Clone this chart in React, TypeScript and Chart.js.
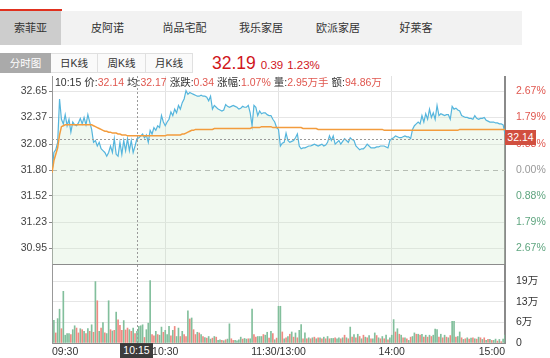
import React, { useEffect, useRef } from "react";
import { Chart, registerables } from "chart.js";

Chart.register(...registerables);

const FONT = '"Liberation Sans", "Noto Sans CJK SC", Arial, sans-serif';

// ---------- data ----------
const TABS = ["索菲亚", "皮阿诺", "尚品宅配", "我乐家居", "欧派家居", "好莱客"];
const PERIODS = ["分时图", "日K线", "周K线", "月K线"];
const LAST_PRICE = "32.19";
const LAST_CHANGE = "0.39";
const LAST_PCT = "1.23%";

const PREV_CLOSE = 31.8;
const PRICE_MIN = 30.781;
const PRICE_MAX = 32.819;
const PRICE_TICKS = [32.65, 32.37, 32.08, 31.8, 31.52, 31.23, 30.95];
const PRICE_LABELS = ["32.65", "32.37", "32.08", "31.80", "31.52", "31.23", "30.95"];
const PCT_LABELS = ["2.67%", "1.79%", "0.88%", "0.00%", "0.88%", "1.79%", "2.67%"];
const PCT_SIGN = [1, 1, 1, 0, -1, -1, -1];

const VOL_MAX = 24;
const VOL_TICKS = [0, 6.35, 12.7, 19.05];
const VOL_LABELS = ["0", "6万", "13万", "19万"];

const TIME_TICKS = [0, 60, 120, 180, 240];
const TIME_LABELS = ["09:30", "10:30", "11:30/13:00", "14:00", "15:00"];

const CROSS_INDEX = 45;
const CROSS_TIME = "10:15";
const CROSS_PRICE = 32.14;
const INFO = [
  { label: "10:15", value: "" },
  { label: "价:", value: "32.14" },
  { label: "均:", value: "32.17" },
  { label: "涨跌:", value: "0.34" },
  { label: "涨幅:", value: "1.07%" },
  { label: "量:", value: "2.95万手" },
  { label: "额:", value: "94.86万" },
];

// minute price, index 0 = 09:30 ... 120 = 11:30/13:00 ... 240 = 15:00
const PRICE = [
  31.77, 31.99, 32.02, 32.10, 32.57, 32.35, 32.30, 32.40, 32.28, 32.35,
  32.21, 32.32, 32.29, 32.28, 32.31, 32.36, 32.30, 32.37, 32.29, 32.40,
  32.32, 32.24, 32.10, 32.12, 32.06, 32.10, 32.03, 32.01, 31.99, 31.95,
  31.99, 32.06, 31.99, 32.14, 31.97, 31.95, 32.10, 31.97, 32.12, 32.01,
  32.14, 32.01, 32.12, 31.99, 32.06, 32.14, 32.15, 32.17, 32.19, 32.15,
  32.18, 32.10, 32.23, 32.19, 32.26, 32.23, 32.28, 32.26, 32.39, 32.32,
  32.28, 32.32, 32.35, 32.43, 32.39, 32.46, 32.42, 32.50, 32.46, 32.53,
  32.57, 32.66, 32.62, 32.64, 32.63, 32.62, 32.61, 32.60, 32.60, 32.61,
  32.60, 32.60, 32.59, 32.55, 32.60, 32.46, 32.50, 32.48, 32.46, 32.45,
  32.44, 32.45, 32.51, 32.49, 32.48, 32.49, 32.50, 32.49, 32.48, 32.46,
  32.47, 32.49, 32.48, 32.48, 32.50, 32.42, 32.28, 32.50, 32.48, 32.39,
  32.44, 32.41, 32.42, 32.42, 32.40, 32.39, 32.39, 32.35, 32.32, 32.26,
  32.24, 32.06, 32.09, 32.10, 32.20, 32.12, 32.10, 32.11, 32.12, 32.15,
  32.19, 32.06, 32.03, 32.04, 32.04, 32.05, 32.06, 32.06, 32.07, 32.08,
  32.07, 32.06, 32.07, 32.08, 32.06, 32.07, 32.10, 32.17, 32.12, 32.17,
  32.08, 32.10, 32.12, 32.08, 32.11, 32.14, 32.12, 32.10, 32.15, 32.13,
  32.12, 32.06, 32.04, 32.02, 32.03, 32.03, 32.05, 32.08, 32.06, 32.04,
  32.04, 32.04, 32.05, 32.05, 32.06, 32.06, 32.06, 32.05, 32.04, 32.12,
  32.14, 32.15, 32.17, 32.16, 32.15, 32.15, 32.16, 32.17, 32.16, 32.16,
  32.14, 32.24, 32.28, 32.30, 32.32, 32.30, 32.39, 32.32, 32.41, 32.35,
  32.46, 32.37, 32.42, 32.35, 32.50, 32.39, 32.41, 32.40, 32.39, 32.40,
  32.40, 32.35, 32.49, 32.46, 32.47, 32.45, 32.44, 32.39, 32.38, 32.37,
  32.37, 32.36, 32.36, 32.35, 32.39, 32.36, 32.35, 32.36, 32.36, 32.37,
  32.34, 32.33, 32.32, 32.32, 32.32, 32.31, 32.31, 32.30, 32.30, 32.29,
  32.19,
];

const AVG = [
  31.77, 31.90, 31.97, 32.04, 32.18, 32.27, 32.28, 32.29, 32.29, 32.29,
  32.29, 32.29, 32.29, 32.29, 32.29, 32.29, 32.29, 32.29, 32.29, 32.29,
  32.29, 32.29, 32.28, 32.27, 32.26, 32.25, 32.24, 32.23, 32.22, 32.22,
  32.21, 32.21, 32.20, 32.20, 32.20, 32.19, 32.19, 32.18, 32.18, 32.18,
  32.17, 32.17, 32.17, 32.17, 32.17, 32.17, 32.17, 32.17, 32.17, 32.17,
  32.17, 32.17, 32.17, 32.17, 32.17, 32.17, 32.17, 32.17, 32.17, 32.17,
  32.17, 32.18, 32.18, 32.18, 32.18, 32.18, 32.18, 32.18, 32.18, 32.19,
  32.19, 32.20, 32.21, 32.22, 32.23, 32.23, 32.24, 32.24, 32.24, 32.24,
  32.24, 32.24, 32.24, 32.24, 32.24, 32.24, 32.25, 32.25, 32.25, 32.25,
  32.25, 32.25, 32.25, 32.25, 32.25, 32.25, 32.25, 32.25, 32.25, 32.25,
  32.25, 32.25, 32.25, 32.25, 32.25, 32.25, 32.26, 32.26, 32.26, 32.26,
  32.26, 32.27, 32.27, 32.27, 32.27, 32.27, 32.27, 32.26, 32.26, 32.26,
  32.26, 32.26, 32.26, 32.26, 32.26, 32.26, 32.26, 32.26, 32.26, 32.26,
  32.26, 32.26, 32.26, 32.25, 32.25, 32.25, 32.25, 32.25, 32.25, 32.25,
  32.25, 32.24, 32.24, 32.24, 32.24, 32.24, 32.24, 32.24, 32.24, 32.24,
  32.24, 32.24, 32.24, 32.24, 32.24, 32.24, 32.24, 32.24, 32.24, 32.24,
  32.24, 32.24, 32.24, 32.24, 32.24, 32.24, 32.24, 32.24, 32.24, 32.24,
  32.24, 32.24, 32.24, 32.24, 32.24, 32.24, 32.23, 32.23, 32.23, 32.23,
  32.23, 32.23, 32.23, 32.23, 32.23, 32.23, 32.23, 32.23, 32.23, 32.23,
  32.23, 32.23, 32.23, 32.23, 32.23, 32.23, 32.23, 32.23, 32.23, 32.23,
  32.23, 32.23, 32.23, 32.23, 32.23, 32.23, 32.23, 32.23, 32.23, 32.23,
  32.23, 32.23, 32.23, 32.23, 32.23, 32.23, 32.24, 32.24, 32.24, 32.24,
  32.24, 32.24, 32.24, 32.24, 32.24, 32.24, 32.24, 32.24, 32.24, 32.24,
  32.24, 32.24, 32.24, 32.24, 32.24, 32.24, 32.24, 32.24, 32.24, 32.24,
  32.24,
];

// volume per minute in 万, minute 1..240
const VOLUME = [
  7.0, 3.1, 7.5, 10.4, 4.4, 15.9, 2.4, 2.9, 2.9, 2.6,
  4.1, 5.3, 4.6, 3.1, 4.4, 4.1, 3.6, 2.9, 4.4, 3.6,
  5.6, 3.3, 18.9, 13.0, 3.6, 4.6, 6.3, 3.1, 2.9, 13.0,
  4.1, 3.7, 3.9, 9.5, 7.1, 5.4, 3.9, 6.9, 4.0, 4.6,
  4.1, 3.6, 4.6, 2.9, 3.6, 5.1, 5.3, 5.6, 1.7, 4.1,
  6.1, 19.2, 2.6, 2.2, 3.6, 2.6, 2.4, 4.9, 3.3, 3.9,
  2.6, 5.1, 2.2, 3.9, 5.1, 2.0, 4.6, 2.0, 3.6, 2.6,
  2.0, 9.9, 7.4, 7.7, 4.1, 2.6, 3.3, 3.1, 2.6, 2.0,
  1.7, 1.5, 2.0, 1.2, 1.5, 2.0, 1.8, 0.8, 1.0, 0.8,
  0.7, 1.0, 1.2, 5.9, 1.3, 0.8, 0.8, 0.7, 1.0, 1.8,
  1.2, 1.4, 1.2, 1.3, 1.3, 10.4, 2.6, 1.8, 2.0, 2.0,
  2.0, 2.6, 2.4, 3.3, 1.5, 3.6, 2.9, 1.0, 1.5, 11.3,
  11.3, 3.4, 1.3, 1.6, 2.0, 2.7, 3.4, 1.8, 3.1, 1.6,
  3.9, 5.7, 1.3, 3.1, 1.3, 1.6, 1.3, 1.6, 1.8, 1.3,
  1.6, 1.6, 1.3, 1.8, 1.3, 2.0, 1.3, 1.4, 1.4, 1.6,
  1.3, 1.6, 1.3, 1.6, 2.4, 1.6, 1.3, 4.9, 1.8, 2.6,
  1.6, 2.7, 2.0, 1.3, 2.4, 1.8, 1.6, 2.3, 1.3, 1.3,
  3.1, 2.3, 1.6, 1.3, 2.0, 1.3, 2.4, 1.0, 1.6, 2.4,
  7.2, 3.4, 4.4, 2.7, 2.4, 1.6, 1.6, 1.3, 0.8, 1.8,
  2.0, 3.1, 2.7, 2.7, 2.4, 2.7, 1.8, 2.4, 1.8, 2.4,
  2.0, 2.4, 4.3, 4.1, 1.8, 2.7, 1.6, 2.4, 1.8, 1.6,
  2.3, 6.7, 6.7, 1.8, 2.0, 3.4, 1.6, 1.1, 1.3, 1.6,
  1.2, 1.5, 1.6, 1.3, 1.2, 1.8, 1.6, 1.1, 1.6, 0.8,
  1.1, 1.1, 0.8, 0.8, 1.2, 0.6, 1.1, 0.4, 1.2, 2.4,
];
// R = up (red), G = down (green)
const VOL_DIR = (
  "GRGGRGGGGR" + "GGRRGRGRGR" + "GRGRGRGRGG" + "RGRGRRRGRR" +
  "GRGRGGGGRG" + "GGRRGRGGRG" + "GGRGRGGRGR" + "RGRGRRGRGR" +
  "GRGGRGRGGR" + "GRGGRRGGGG" + "RGGRGGRRGG" + "GRGGRGRGRG" +
  "GRGRGRGRGR" + "GGRGRGRGRG" + "RGRGRGRGGR" + "GGRGRGRGRG" +
  "RGRGRGRGRG" + "GRGRGRGRGG" + "GRGRGRGRGR" + "GGRGRGRGRG" +
  "RGGGRGRGRG" + "RGGRGGRGRG" + "RGRGRGRGRG" + "RGRGGRGRGG"
).split("");

// ---------- styles ----------
const C_PRICE = "#55b5dd";
const C_AVG = "#f39c3d";
const C_FILL = "rgba(200,230,195,0.25)";
const C_GRID = "#e6e6e6";
const C_UP = "#ef8a82";
const C_DOWN = "#82bf9c";
const C_RED_TXT = "#e0574f";
const C_GREEN_TXT = "#5ea57f";

const crossPlugin = (withHorizontal: boolean) => ({
  id: "cross" + (withHorizontal ? "P" : "V"),
  beforeDatasetsDraw(chart: any) {
    if (!withHorizontal) return;
    const { ctx, chartArea } = chart;
    const y = Math.round(chart.scales.y.getPixelForValue(PREV_CLOSE)) + 0.5;
    ctx.save();
    ctx.strokeStyle = "#b0b0b0";
    ctx.lineWidth = 1;
    ctx.setLineDash([5, 4]);
    ctx.beginPath();
    ctx.moveTo(chartArea.left, y);
    ctx.lineTo(chartArea.right, y);
    ctx.stroke();
    ctx.restore();
  },
  afterDatasetsDraw(chart: any) {
    const { ctx, chartArea } = chart;
    const x = Math.round(chart.scales.x.getPixelForValue(CROSS_INDEX)) + 0.5;
    ctx.save();
    ctx.strokeStyle = "#9a9a9a";
    ctx.lineWidth = 1;
    ctx.setLineDash([2, 2]);
    ctx.beginPath();
    ctx.moveTo(x, chartArea.top);
    ctx.lineTo(x, chartArea.bottom);
    if (withHorizontal) {
      const y = Math.round(chart.scales.y.getPixelForValue(CROSS_PRICE)) + 0.5;
      ctx.moveTo(chartArea.left, y);
      ctx.lineTo(chartArea.right, y);
    }
    ctx.stroke();
    ctx.restore();
  },
});

const tickFont = { family: FONT, size: 10.5 };

const fixSize = (w: number | null, h: number | null) => (s: any) => {
  if (w !== null) s.width = w;
  if (h !== null) s.height = h;
  s.paddingTop = 0;
  s.paddingBottom = 0;
  s.paddingLeft = 0;
  s.paddingRight = 0;
};

export default function App() {
  const priceRef = useRef<HTMLCanvasElement>(null);
  const volRef = useRef<HTMLCanvasElement>(null);

  useEffect(() => {
    const setTicks = (vals: number[]) => (s: any) => {
      s.ticks = vals.map((v) => ({ value: v }));
    };
    const xGrid = (ctx: any) =>
      ctx.index === 0 || ctx.index === TIME_TICKS.length - 1 ? "rgba(0,0,0,0)" : "#e2e2e2";

    const pc = new Chart(priceRef.current as HTMLCanvasElement, {
      type: "line",
      data: {
        datasets: [
          {
            data: AVG.map((v, i) => ({ x: i, y: v })),
            borderColor: C_AVG,
            borderWidth: 1.5,
            pointRadius: 0,
            fill: false,
            tension: 0,
            order: 1,
          },
          {
            data: PRICE.map((v, i) => ({ x: i, y: v })),
            borderColor: C_PRICE,
            backgroundColor: C_FILL,
            borderWidth: 1.2,
            pointRadius: 0,
            fill: "start",
            tension: 0,
            order: 2,
          },
        ],
      },
      options: {
        animation: false,
        responsive: false,
        devicePixelRatio: 1,
        events: [],
        layout: { padding: 0, autoPadding: false },
        plugins: { legend: { display: false }, tooltip: { enabled: false } },
        scales: {
          x: {
            type: "linear",
            min: 0,
            max: 240,
            afterBuildTicks: setTicks(TIME_TICKS),
            afterFit: fixSize(null, 1),
            ticks: { display: false },
            grid: { color: xGrid, drawTicks: false },
            border: { display: true, color: "#8c8c8c", width: 1 },
          },
          y: {
            position: "left",
            min: PRICE_MIN,
            max: PRICE_MAX,
            afterBuildTicks: setTicks(PRICE_TICKS),
            afterFit: fixSize(52, null),
            ticks: {
              callback: (_v: any, i: number) => PRICE_LABELS[i],
              font: tickFont,
              color: "#444",
              padding: 2,
              autoSkip: false,
            },
            grid: {
              color: (ctx: any) => (PRICE_TICKS[ctx.index] === PREV_CLOSE ? "rgba(0,0,0,0)" : C_GRID),
              tickLength: 3,
              tickColor: "#888",
            },
            border: { color: "#999", width: 1 },
          },
          y2: {
            position: "right",
            min: PRICE_MIN,
            max: PRICE_MAX,
            afterBuildTicks: setTicks(PRICE_TICKS),
            afterFit: fixSize(45, null),
            ticks: {
              callback: (_v: any, i: number) => PCT_LABELS[i],
              font: tickFont,
              color: (ctx: any) =>
                PCT_SIGN[ctx.index] > 0 ? C_RED_TXT : PCT_SIGN[ctx.index] < 0 ? C_GREEN_TXT : "#999",
              padding: 3,
              autoSkip: false,
            },
            grid: { display: false },
            border: { display: true, color: "#8a8a8a", width: 2 },
          },
        },
      } as any,
      plugins: [crossPlugin(true)],
    });

    const vc = new Chart(volRef.current as HTMLCanvasElement, {
      type: "bar",
      data: {
        datasets: [
          {
            data: VOLUME.map((v, k) => ({ x: k + 1, y: v })),
            backgroundColor: VOL_DIR.map((d) => (d === "R" ? C_UP : C_DOWN)),
            barThickness: 1,
            categoryPercentage: 1,
            barPercentage: 1,
          },
        ],
      },
      options: {
        animation: false,
        responsive: false,
        devicePixelRatio: 1,
        events: [],
        layout: { padding: 0, autoPadding: false },
        plugins: { legend: { display: false }, tooltip: { enabled: false } },
        scales: {
          x: {
            type: "linear",
            min: 0,
            max: 240,
            offset: false,
            afterBuildTicks: setTicks(TIME_TICKS),
            afterFit: fixSize(null, 15),
            ticks: {
              callback: (_v: any, i: number) => TIME_LABELS[i],
              align: "inner",
              maxRotation: 0,
              minRotation: 0,
              autoSkip: false,
              font: tickFont,
              color: "#333",
              padding: 3,
            },
            grid: { color: xGrid, drawTicks: false, offset: false },
            border: { display: true, color: "#8c8c8c", width: 1 },
          },
          y: {
            position: "left",
            min: 0,
            max: VOL_MAX,
            afterBuildTicks: setTicks(VOL_TICKS),
            afterFit: fixSize(52, null),
            ticks: { display: false },
            grid: {
              color: (ctx: any) => (ctx.index === 0 ? "rgba(0,0,0,0)" : C_GRID),
              drawTicks: false,
            },
            border: { color: "#999", width: 1 },
          },
          y2: {
            position: "right",
            min: 0,
            max: VOL_MAX,
            afterBuildTicks: setTicks(VOL_TICKS),
            afterFit: fixSize(45, null),
            ticks: {
              callback: (_v: any, i: number) => VOL_LABELS[i],
              font: tickFont,
              color: "#333",
              padding: 3,
              autoSkip: false,
            },
            grid: { display: false },
            border: { display: true, color: "#8a8a8a", width: 2 },
          },
        },
      } as any,
      plugins: [crossPlugin(false)],
    });

    return () => {
      pc.destroy();
      vc.destroy();
    };
  }, []);

  const tabCenters = [30.5, 107.5, 184.5, 261, 338, 416];
  const periodBoxes = [
    { left: 0, width: 51 },
    { left: 51, width: 47 },
    { left: 98, width: 48 },
    { left: 146, width: 47 },
  ];

  return (
    <div
      style={{
        position: "absolute",
        left: 0,
        top: 0,
        width: 550,
        height: 358,
        overflow: "hidden",
        background: "#fff",
        fontFamily: FONT,
        color: "#333",
      }}
    >
      {/* tab bar */}
      <div style={{ position: "absolute", left: 0, top: 11, width: 522, height: 34, background: "#f2f2f2" }} />
      <div style={{ position: "absolute", left: 0, top: 11, width: 61, height: 34, background: "#cdcdcd" }} />
      <div style={{ position: "absolute", left: 0, top: 9, width: 62, height: 2, background: "#e0301e" }} />
      {TABS.map((t, i) => (
        <div
          key={t}
          style={{
            position: "absolute",
            left: tabCenters[i] - 40,
            width: 80,
            top: 11,
            height: 34,
            lineHeight: "34px",
            textAlign: "center",
            fontSize: 11,
            color: "#333",
          }}
        >
          {t}
        </div>
      ))}

      {/* period buttons */}
      {PERIODS.map((p, i) => (
        <div
          key={p}
          style={{
            position: "absolute",
            left: periodBoxes[i].left,
            top: 53,
            width: periodBoxes[i].width,
            height: 20,
            boxSizing: "border-box",
            border: i === 0 ? "none" : "1px solid #e0e0e0",
            borderLeft: "none",
            background: i === 0 ? "#aaaaaa" : "#fafafa",
            color: i === 0 ? "#fff" : "#333",
            fontSize: 10.5,
            lineHeight: i === 0 ? "20px" : "18px",
            textAlign: "center",
          }}
        >
          {p}
        </div>
      ))}

      {/* quote header */}
      <div
        style={{
          position: "absolute",
          left: 212,
          top: 52,
          height: 22,
          lineHeight: "22px",
          whiteSpace: "nowrap",
          color: "#d0151b",
        }}
      >
        <span style={{ fontSize: 17.5 }}>{LAST_PRICE}</span>
        <span style={{ fontSize: 11.5, marginLeft: 5 }}>{LAST_CHANGE}</span>
        <span style={{ fontSize: 11.5, marginLeft: 4 }}>{LAST_PCT}</span>
      </div>

      {/* charts */}
      <canvas
        ref={priceRef}
        width={550}
        height={189}
        style={{ position: "absolute", left: 0, top: 76, width: 550, height: 189 }}
      />
      <canvas
        ref={volRef}
        width={550}
        height={93}
        style={{ position: "absolute", left: 0, top: 265, width: 550, height: 93 }}
      />

      {/* info line */}
      <div
        style={{
          position: "absolute",
          left: 55,
          top: 76,
          height: 13,
          lineHeight: "13px",
          fontSize: 10.5,
          color: "#333",
          whiteSpace: "nowrap",
        }}
      >
        {INFO.map((p, i) => (
          <span key={i} style={{ marginRight: 3 }}>
            {p.label}
            <span style={{ color: C_RED_TXT }}>{p.value}</span>
          </span>
        ))}
      </div>

      {/* cross tags */}
      <div
        style={{
          position: "absolute",
          left: 505,
          top: 130,
          width: 31,
          height: 15,
          lineHeight: "15px",
          background: "#d14f3f",
          color: "#fff",
          fontSize: 10.5,
          textAlign: "center",
        }}
      >
        {CROSS_PRICE.toFixed(2)}
      </div>
      <div
        style={{
          position: "absolute",
          left: 120,
          top: 343,
          width: 33,
          height: 15,
          lineHeight: "15px",
          background: "#3c3c3c",
          color: "#fff",
          fontSize: 10.5,
          textAlign: "center",
        }}
      >
        {CROSS_TIME}
      </div>
    </div>
  );
}
